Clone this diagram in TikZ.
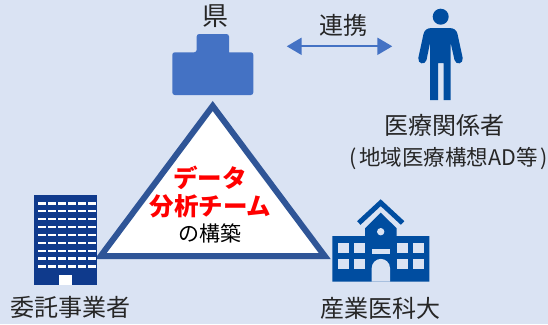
\documentclass[tikz,border=0pt]{standalone}
\usepackage{fontspec}
\setmainfont{Noto Sans CJK JP}
\usetikzlibrary{arrows.meta}
\definecolor{bgc}{HTML}{DAE3F3}
\definecolor{pref}{HTML}{4472C4}
\definecolor{tri}{HTML}{2F5597}
\definecolor{icon}{HTML}{004DA0}
\definecolor{bld}{HTML}{0F3A8C}
\tikzset{
  lab/.style={font=\fontsize{24}{24}\selectfont, text=black!85, inner sep=0pt, anchor=center},
  sublab/.style={font=\fontsize{21.5}{22}\selectfont, text=black!85, inner sep=0pt, anchor=center},
  redlab/.style={font=\fontsize{24.5}{24}\selectfont\bfseries, text=red, inner sep=0pt, anchor=center},
  blacklab/.style={font=\fontsize{21}{22}\selectfont, text=black, inner sep=0pt, anchor=center},
  win/.style={fill=bgc, draw=none},
  linkarrow/.style={draw=pref, line width=2.2pt, {Triangle[length=15pt,width=17pt]}-{Triangle[length=15pt,width=17pt]}}
}
\begin{document}
\begin{tikzpicture}[x=1pt,y=-1pt]
\useasboundingbox (0,0) rectangle (548,324);
\fill[bgc] (0,0) rectangle (548,324);
% prefecture icon
\fill[pref, rounded corners=2.5pt] (172.3,95) -- (172.3,52.3) -- (196.7,52.3) [sharp corners] -- (196.7,52.3) [rounded corners=2.5pt] -- (196.7,34) -- (229,34) -- (229,52.3) [sharp corners] -- (229,52.3) [rounded corners=2.5pt] -- (253.3,52.3) -- (253.3,95) -- cycle;
% triangle
\draw[tri, line width=6pt, fill=white, miter limit=10] (212.7,106) -- (324.7,256) -- (100.7,256) -- cycle;
% office building
\fill[bld] (34,195) rectangle (97,285);
\foreach \r in {0,...,8}{
  \foreach \c in {0,...,5}{
    \fill[white] ({38+\c*9.95},{202.4+\r*7.87}) rectangle ({46+\c*9.95},{204.6+\r*7.87});
  }
}
\fill[white] (59.3,275) rectangle (71.7,285);
% person
\fill[icon] (440.7,16.7) circle (8);
\fill[icon] (432,28) .. controls (427,28) and (424.5,30) .. (423.5,34) -- (418.3,58)
  .. controls (417.5,64) and (425,65.5) .. (426.5,60) -- (430,43) -- (430,100) -- (438,100) -- (438,63) -- (443.5,63) -- (443.5,100) -- (450.7,100) -- (450.7,43)
  -- (454.5,60) .. controls (456,65.5) and (463.5,64) .. (462.7,58) -- (457.5,34) .. controls (456.5,30) and (454,28) .. (449,28) -- cycle;
% school
\fill[icon] (332.3,236) -- (365,236) -- (365,228.3) -- (380.7,212.7) -- (396.7,228.3) -- (396.7,236) -- (429.3,236) -- (429.3,281.7) -- (332.3,281.7) -- cycle;
\draw[icon, line width=5pt] (358.8,223) -- (380.7,202.7) -- (402.6,223);
\fill[win] (380.7,231.7) circle (3.7);
\foreach \x in {338.3,354.3,397.3,413.3}{
  \fill[win] (\x,243.3) rectangle ++(10.8,10);
  \fill[win] (\x,259.3) rectangle ++(10.8,10);
}
\fill[win] (371.7,249) rectangle (390,253.5);
\fill[win] (371.7,281.7) -- (371.7,268) .. controls (371.7,263) and (376,258.9) .. (380.85,258.9) .. controls (385.7,258.9) and (390,263) .. (390,268) -- (390,281.7) -- cycle;
% labels
\node[lab, font=\fontsize{26}{26}\selectfont] (ken) at (215,16.5) {県};
\node[lab] (renkei) at (343.5,25) {連携};
\node[lab] (med) at (444.5,125) {医療関係者};
\node[sublab] (medsub) at (448.5,159) {(\hspace{2.5pt}地域医療構想AD等\hspace{2.5pt})};
\node[lab] (itaku) at (70.5,307.5) {委託事業者};
\node[lab] (univ) at (380.7,308.5) {産業医科大};
\node[redlab] (data) at (210,177.5) {データ};
\node[redlab] (team) at (210.5,206) {分析チーム};
\node[blacklab] (kouchiku) at (210,233.5) {の構築};
% link
\coordinate (la) at (286.7,46.3);
\coordinate (lb) at (392.3,46.3);
\draw[linkarrow] (la) -- (lb);
\end{tikzpicture}
\end{document}
